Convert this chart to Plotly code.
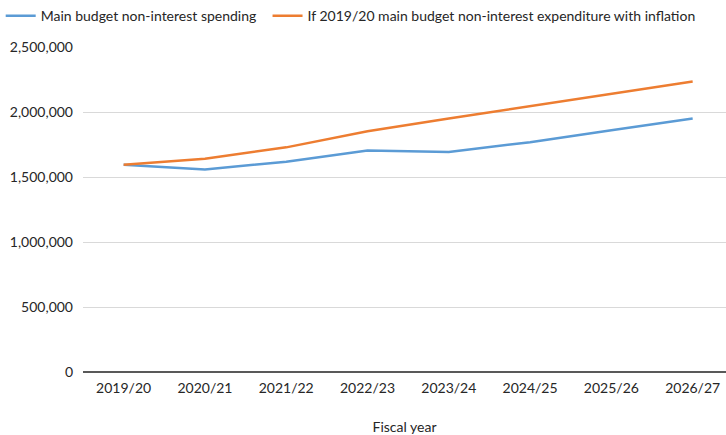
import plotly.graph_objects as go

years = ["2019/20", "2020/21", "2021/22", "2022/23", "2023/24", "2024/25", "2025/26", "2026/27"]
spending = [1595000, 1557000, 1618000, 1703000, 1692000, 1768000, 1860000, 1950000]
inflation = [1595000, 1641000, 1728000, 1852000, 1950000, 2044000, 2140000, 2235000]
y_ticks = [0, 500000, 1000000, 1500000, 2000000, 2500000]

FONT = "Lato, 'Open Sans', sans-serif"

fig = go.Figure()
fig.add_trace(go.Scatter(x=years, y=spending, mode="lines", name="Main budget non-interest spending",
                         line=dict(color="#5B9BD5", width=2.5), legend="legend"))
fig.add_trace(go.Scatter(x=years, y=inflation, mode="lines",
                         name="If 2019/20 main budget non-interest expenditure with inflation",
                         line=dict(color="#ED7D31", width=2.5), legend="legend2"))

leg_common = dict(orientation="h", xanchor="left", y=1.095, yanchor="middle",
                  font=dict(size=14, color="#262626"), itemwidth=30, bgcolor="rgba(0,0,0,0)")

fig.update_layout(
    width=726, height=435,
    margin=dict(l=83, r=0, t=45, b=63),
    paper_bgcolor="white", plot_bgcolor="white",
    font=dict(family=FONT, size=14, color="#262626"),
    showlegend=True,
    legend=dict(x=-0.128, **leg_common),
    legend2=dict(x=0.287, **leg_common),
    xaxis=dict(type="category", range=[-0.5, 7.41], showgrid=False, showline=False, ticks="",
               title=dict(text="Fiscal year", font=dict(size=14), standoff=28),
               tickfont=dict(size=14), ticklabelstandoff=6),
    yaxis=dict(range=[0, 2500000], tickvals=y_ticks, tickformat=",d",
               showgrid=True, gridcolor="#D9D9D9", gridwidth=1,
               zeroline=True, zerolinecolor="#595959", zerolinewidth=1.5,
               showline=False, ticks="", ticklabelstandoff=9, tickfont=dict(size=14)),
)

fig.write_html("out.html")
